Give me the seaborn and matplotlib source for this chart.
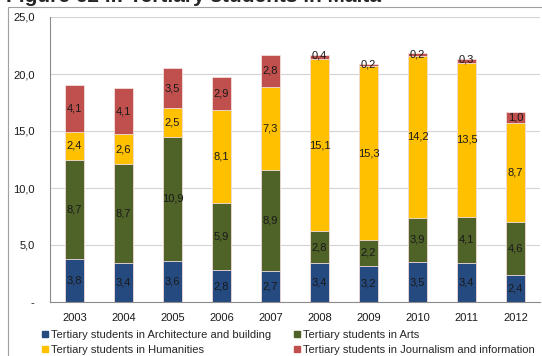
"""
Stacked bar chart: tertiary students in Malta by field, 2003-2012.
"""
import matplotlib
matplotlib.use("Agg")
import matplotlib.pyplot as plt
import matplotlib.patches as mpatches
import numpy as np
import seaborn as sns

years = ["2003", "2004", "2005", "2006", "2007", "2008", "2009", "2010", "2011", "2012"]
architecture = [3.8, 3.4, 3.6, 2.8, 2.7, 3.4, 3.2, 3.5, 3.4, 2.4]
arts = [8.7, 8.7, 10.9, 5.9, 8.9, 2.8, 2.2, 3.9, 4.1, 4.6]
humanities = [2.4, 2.6, 2.5, 8.1, 7.3, 15.1, 15.3, 14.2, 13.5, 8.7]
journalism = [4.1, 4.1, 3.5, 2.9, 2.8, 0.4, 0.2, 0.2, 0.3, 1.0]

series_names = [
    "Tertiary students in Architecture and building",
    "Tertiary students in Arts",
    "Tertiary students in Humanities",
    "Tertiary students in Journalism and information",
]
series_values = [architecture, arts, humanities, journalism]
colors = ["#254a7f", "#4f6228", "#ffc000", "#c0504d"]

sns.set_style("white")
plt.rcParams["font.family"] = ["Liberation Sans", "DejaVu Sans"]

fig = plt.figure(figsize=(5.42, 3.56), dpi=100)
ax = fig.add_axes([50 / 542, 1 - 302 / 356, 490 / 542, 285 / 356])

# outer chart frame
fig.patches.append(mpatches.Rectangle((8 / 542, -0.1), 1.2, 1 - 7 / 356 + 0.1,
                                      transform=fig.transFigure, fill=False,
                                      edgecolor="#a0a0a0", linewidth=0.8))

# stacked bars drawn as overlaid cumulative barplots, top layer first
cums = np.cumsum(np.array(series_values), axis=0)
for i in range(len(series_values) - 1, -1, -1):
    sns.barplot(x=years, y=cums[i], color=colors[i], width=0.39, ax=ax,
                edgecolor="#f2dede", linewidth=0.6, saturation=1, zorder=2)

# value labels in the middle of each segment
for i, vals in enumerate(series_values):
    bottoms = cums[i] - np.array(vals)
    for j, v in enumerate(vals):
        y = bottoms[j] + v / 2
        if v < 1.0:
            y = cums[i][j] - 0.05
        ax.text(j, y, f"{v:.1f}".replace(".", ","), ha="center", va="center",
                fontsize=8, color="#1a1a1a", zorder=5)

ax.set_ylim(0, 25)
ax.set_xlim(-0.5, 9.5)
ax.set_yticks(np.arange(0, 26, 5))
ax.set_yticklabels(["-", "5,0", "10,0", "15,0", "20,0", "25,0"])
ax.yaxis.grid(True, color="#d4d4d4", linewidth=0.8, zorder=0)
ax.set_axisbelow(True)
ax.set_xlabel("")
ax.set_ylabel("")

ax.set_xticks(np.arange(-0.5, 10, 1), minor=True)
ax.tick_params(axis="x", which="major", length=0, labelsize=8, pad=8, colors="#1a1a1a")
ax.tick_params(axis="x", which="minor", length=4, color="#8c8c8c", width=0.8)
ax.tick_params(axis="y", length=4, width=0.8, labelsize=8, pad=7,
               colors="#8c8c8c", labelcolor="#1a1a1a")

for side in ["top", "right"]:
    ax.spines[side].set_visible(False)
for side in ["left", "bottom"]:
    ax.spines[side].set_color("#8c8c8c")
    ax.spines[side].set_linewidth(0.8)

# legend, two columns
handles = [mpatches.Patch(color=c, label=n) for c, n in zip(colors, series_names)]
order = [0, 2, 1, 3]
fig.legend([handles[k] for k in order], [series_names[k] for k in order],
           ncol=2, loc="upper left", bbox_to_anchor=(34 / 542, 1 - 322 / 356),
           frameon=False, fontsize=8, handlelength=0.55, handleheight=0.55,
           handletextpad=0.3, columnspacing=2.0, labelspacing=0.45,
           borderpad=0.2)

fig.text(6 / 542, 1 - 2 / 356, "Figure 62 ii: Tertiary students in Malta",
         fontsize=15, fontweight="bold", va="baseline", ha="left")

fig.savefig("out.png", dpi=100)
